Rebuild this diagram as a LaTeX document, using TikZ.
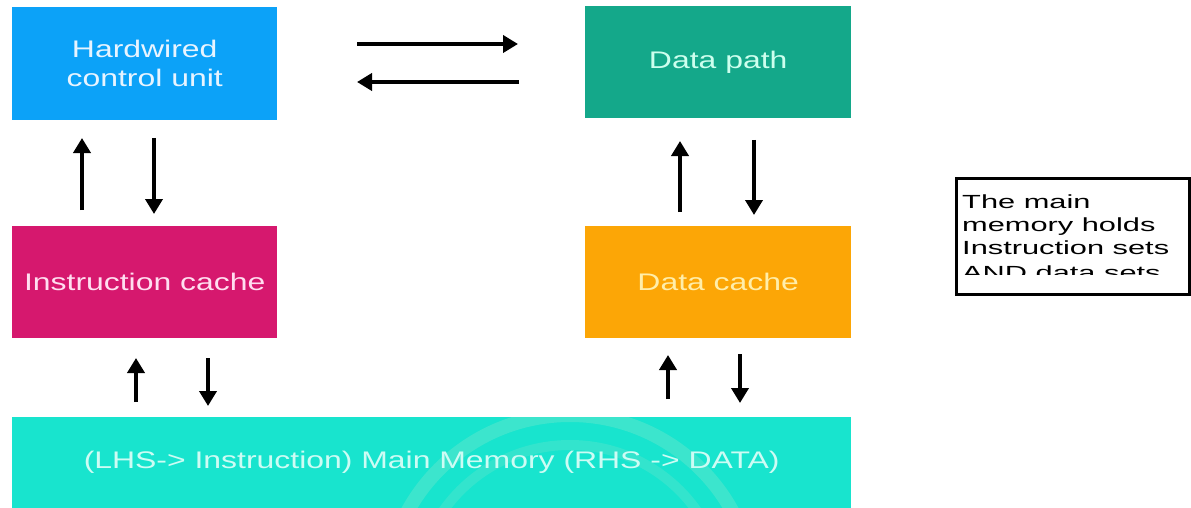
\documentclass[tikz,border=0pt]{standalone}
\usepackage{fontspec}
\setmainfont{Liberation Sans}
\usetikzlibrary{arrows.meta}
\definecolor{hwblue}{RGB}{12,162,248}
\definecolor{dpgreen}{RGB}{20,168,138}
\definecolor{icmag}{RGB}{214,24,110}
\definecolor{dcorange}{RGB}{252,166,6}
\definecolor{mmcyan}{RGB}{24,228,206}
\definecolor{hwtext}{RGB}{232,244,255}
\definecolor{dptext}{RGB}{205,255,238}
\definecolor{ictext}{RGB}{255,222,240}
\definecolor{dctext}{RGB}{255,238,170}
\definecolor{mmtext}{RGB}{205,252,244}
\definecolor{wmark}{RGB}{250,235,200}
\newcommand{\wx}[1]{\scalebox{1.33}[1]{#1}}
\newcommand{\nx}[1]{\scalebox{1.62}[1]{#1}}
\begin{document}
\begin{tikzpicture}[x=1pt,y=-1pt,
  blk/.style={rectangle, draw=none, anchor=north west, inner sep=0pt, align=center,
              font=\fontsize{24}{29}\selectfont},
  arr/.style={line width=4.6pt, -{Triangle[width=17pt,length=15pt]}},
  noteline/.style={anchor=base west, inner sep=0pt, font=\fontsize{19}{22}\selectfont}]
\useasboundingbox[fill=white] (0,0) rectangle (1191,508);

% boxes
\node[blk, fill=hwblue, text=hwtext, minimum width=265pt, minimum height=113pt] (hw) at (12,7)
  {\wx{Hardwired}\\\wx{control unit}};
\node[blk, fill=dpgreen, text=dptext, minimum width=266pt, minimum height=112pt] (dp) at (585,6)
  {\wx{Data path}};
\node[blk, fill=icmag, text=ictext, minimum width=265pt, minimum height=112pt] (ic) at (12,226)
  {\wx{Instruction cache}};
\node[blk, fill=dcorange, text=dctext, minimum width=266pt, minimum height=112pt] (dc) at (585,226)
  {\wx{Data cache}};
\node[blk, fill=mmcyan, minimum width=839pt, minimum height=91pt] (mm) at (12,417) {};
% faint watermark rings
\begin{scope}
  \clip (12,417) rectangle (851,508);
  \draw[wmark, opacity=0.16, line width=14pt] (570,600) circle (185);
  \draw[wmark, opacity=0.12, line width=10pt] (570,600) circle (155);
\end{scope}
\node[inner sep=0pt, text=mmtext, font=\fontsize{24}{29}\selectfont] (mmtext) at (mm.center)
  {\wx{(LHS-> Instruction) Main Memory (RHS -> DATA)}};

% note box
\node[draw=black, line width=3pt, anchor=north west, inner sep=0pt,
      minimum width=233pt, minimum height=116pt] (note) at (955,177) {};
\begin{scope}
  \clip (958,181) rectangle (1185,274);
  \node[noteline] (n1) at (962,208) {\nx{The main}};
  \node[noteline] (n2) at (962,231) {\nx{memory holds}};
  \node[noteline] (n3) at (962,254) {\nx{Instruction sets}};
  \node[noteline] (n4) at (962,279) {\nx{AND data sets}};
\end{scope}

% arrow end points
\coordinate (h1a) at (357,44);  \coordinate (h1b) at (518,44);
\coordinate (h2a) at (519,82);  \coordinate (h2b) at (357,82);
\coordinate (l1a) at (82,210);  \coordinate (l1b) at (82,138);
\coordinate (l2a) at (154,138); \coordinate (l2b) at (154,214);
\coordinate (r1a) at (680,212); \coordinate (r1b) at (680,141);
\coordinate (r2a) at (754,140); \coordinate (r2b) at (754,215);
\coordinate (l3a) at (136,402); \coordinate (l3b) at (136,358);
\coordinate (l4a) at (208,358); \coordinate (l4b) at (208,406);
\coordinate (r3a) at (668,399); \coordinate (r3b) at (668,355);
\coordinate (r4a) at (740,354); \coordinate (r4b) at (740,403);

\draw[arr] (h1a) -- (h1b);
\draw[arr] (h2a) -- (h2b);
\draw[arr] (l1a) -- (l1b);
\draw[arr] (l2a) -- (l2b);
\draw[arr] (r1a) -- (r1b);
\draw[arr] (r2a) -- (r2b);
\draw[arr] (l3a) -- (l3b);
\draw[arr] (l4a) -- (l4b);
\draw[arr] (r3a) -- (r3b);
\draw[arr] (r4a) -- (r4b);
\end{tikzpicture}
\end{document}
